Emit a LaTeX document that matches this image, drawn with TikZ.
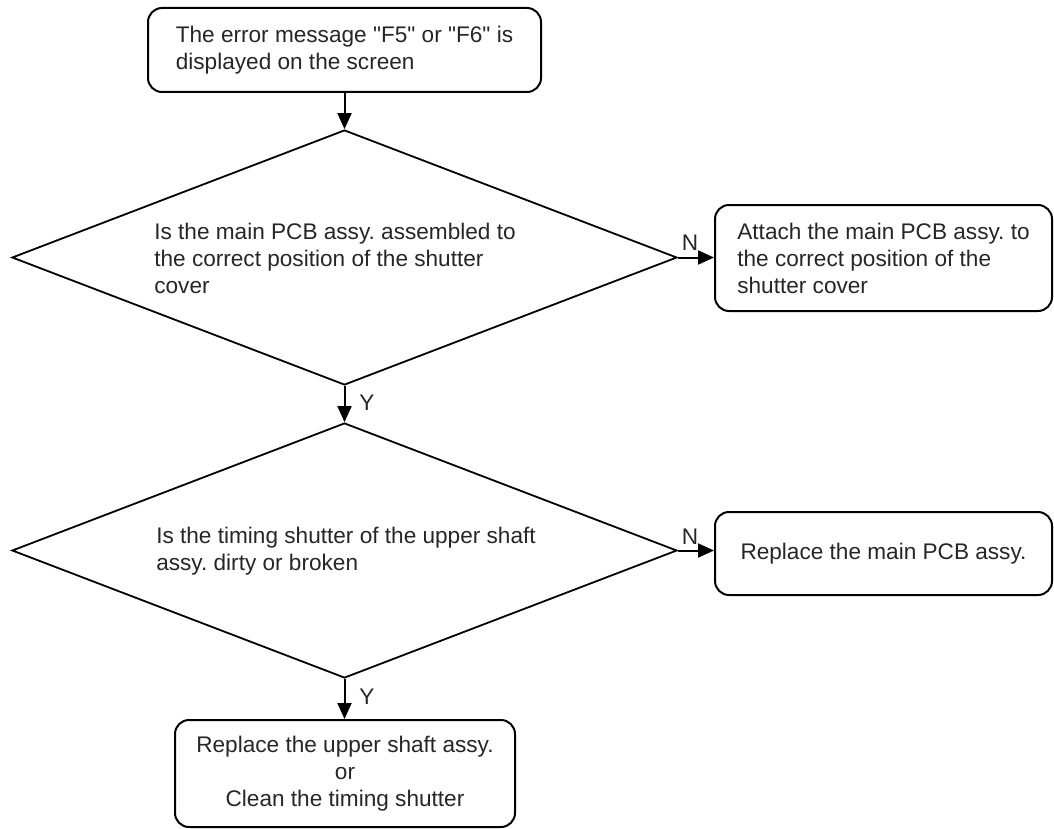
\documentclass[tikz,border=0pt]{standalone}
\usepackage{fontspec}
\setmainfont{Liberation Sans}
\usetikzlibrary{shapes.geometric,arrows.meta}
\frenchspacing
\begin{document}
\begin{tikzpicture}[x=1pt,y=-1pt,
  every node/.style={font=\fontsize{22.6}{27}\selectfont, text=black!85},
  procbox/.style={draw, line width=2pt, rounded corners=14pt, inner sep=0pt, align=left},
  decision/.style={draw, shape=diamond, line width=1.8pt, inner sep=0pt, minimum width=665pt, minimum height=255pt},
  flow/.style={line width=2pt, -{Triangle[length=16pt,width=14pt]}},
  yn/.style={inner sep=0pt}
]
\useasboundingbox (0,0) rectangle (1054,829);
\node[procbox, minimum width=393pt, minimum height=84pt] (start) at (344.5,50)
  {The error message \textquotedbl F5\textquotedbl\ or \textquotedbl F6\textquotedbl\ is\\displayed on the screen};
\node[decision] (d1) at (344.5,257.5) {};
\node[align=left] (t1) at (335,258) {Is the main PCB assy. assembled to\\the correct position of the shutter\\cover};
\node[decision] (d2) at (344.5,550.5) {};
\node[align=left] (t2) at (346,551) {Is the timing shutter of the upper shaft\\assy. dirty or broken};
\node[procbox, minimum width=337pt, minimum height=106pt] (attach) at (883.5,258)
  {Attach the main PCB assy. to\\the correct position of the\\shutter cover};
\node[procbox, minimum width=337pt, minimum height=83pt] (repl) at (883.5,553.5)
  {Replace the main PCB assy.};
\node[procbox, align=center, minimum width=340pt, minimum height=107pt] (fin) at (345,773.5)
  {Replace the upper shaft assy.\\or\\Clean the timing shutter};
\draw[flow] (start.south -| d1.north) -- (d1.north);
\draw[flow] (d1.south) -- (d2.north);
\draw[flow] (d2.south) -- (d2.south |- fin.north);
\draw[flow] (d1.east) -- (attach.west |- d1.east);
\draw[flow] (d2.east) -- (repl.west |- d2.east);
\node[yn] (y1) at (367,403) {Y};
\node[yn] (y2) at (367,697) {Y};
\node[yn] (n1) at (690,243) {N};
\node[yn] (n2) at (690,537) {N};
\end{tikzpicture}
\end{document}
